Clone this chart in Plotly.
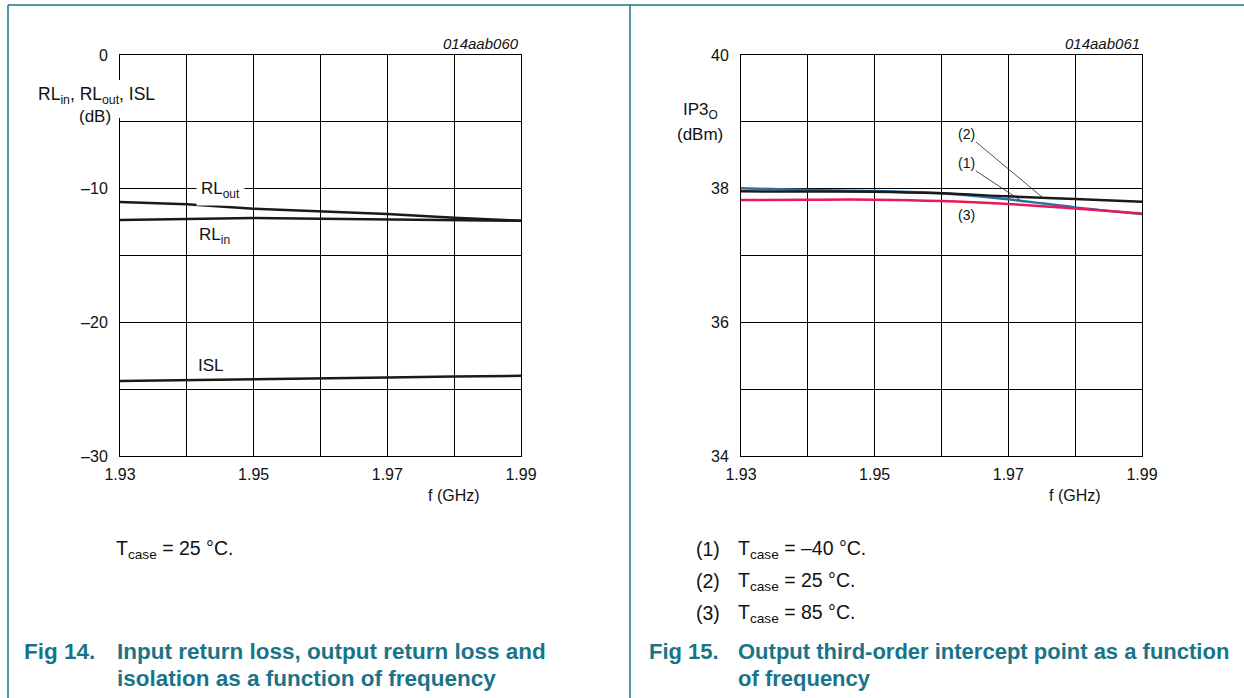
import plotly.graph_objects as go

W, H = 1244, 698

# ---- Data ----
freq = [1.93, 1.94, 1.95, 1.96, 1.97, 1.98, 1.99]
rl_out = [-11.0, -11.17, -11.5, -11.7, -11.9, -12.17, -12.4]
rl_in = [-12.34, -12.27, -12.2, -12.25, -12.3, -12.35, -12.4]
isl = [-24.38, -24.33, -24.28, -24.2, -24.13, -24.06, -24.0]

ip3_m40 = [38.005, 37.98, 37.965, 37.93, 37.84, 37.72, 37.62]
ip3_25 = [37.96, 37.958, 37.955, 37.93, 37.885, 37.845, 37.805]
ip3_85 = [37.83, 37.835, 37.835, 37.815, 37.77, 37.705, 37.63]

x_tickvals = freq
x_ticktext = ["1.93", "", "1.95", "", "1.97", "", "1.99"]
y1_tickvals = [0, -5, -10, -15, -20, -25, -30]
y1_ticktext = ["0", "", "–10", "", "–20", "", "–30"]
y2_tickvals = [34, 35, 36, 37, 38, 39, 40]
y2_ticktext = ["34", "", "36", "", "38", "", "40"]

FONT = "Liberation Sans, Arial, sans-serif"
TEAL = "#1a7489"
BLUE = "#2a6fa6"
RED = "#e8195a"


def px(x):
    return x / W


def py(y):
    return 1 - y / H


fig = go.Figure()

fig.add_trace(go.Scatter(x=freq, y=rl_out, mode="lines", line=dict(color="#1a1a1a", width=2.5),
                         xaxis="x", yaxis="y", showlegend=False))
fig.add_trace(go.Scatter(x=freq, y=rl_in, mode="lines", line=dict(color="#1a1a1a", width=2.5),
                         xaxis="x", yaxis="y", showlegend=False))
fig.add_trace(go.Scatter(x=freq, y=isl, mode="lines", line=dict(color="#1a1a1a", width=2.5),
                         xaxis="x", yaxis="y", showlegend=False))

fig.add_trace(go.Scatter(x=freq, y=ip3_m40, mode="lines", line=dict(color=BLUE, width=2.5, shape="spline"),
                         xaxis="x2", yaxis="y2", showlegend=False))
fig.add_trace(go.Scatter(x=freq, y=ip3_25, mode="lines", line=dict(color="#1a1a1a", width=2.5, shape="spline"),
                         xaxis="x2", yaxis="y2", showlegend=False))
fig.add_trace(go.Scatter(x=freq, y=ip3_85, mode="lines", line=dict(color=RED, width=2.5, shape="spline"),
                         xaxis="x2", yaxis="y2", showlegend=False))

axis_common = dict(showline=True, linecolor="black", linewidth=1, mirror=True, automargin=False,
                   showgrid=True, gridcolor="black", gridwidth=1, zeroline=False,
                   ticks="", tickfont=dict(family=FONT, size=16, color="#111"), fixedrange=True)

ydom = [py(456), py(55)]
fig.update_layout(
    width=W, height=H,
    margin=dict(l=0, r=0, t=0, b=0, pad=0),
    paper_bgcolor="white", plot_bgcolor="white",
    font=dict(family=FONT, color="#111"),
    xaxis=dict(domain=[px(120), px(521)], range=[1.93, 1.99], anchor="y",
               tickvals=x_tickvals, ticktext=x_ticktext, ticklabelstandoff=4, **axis_common),
    yaxis=dict(domain=ydom, range=[-30, 0], anchor="x",
               tickvals=y1_tickvals, ticktext=y1_ticktext, ticklabelstandoff=8, **axis_common),
    xaxis2=dict(domain=[px(741), px(1142)], range=[1.93, 1.99], anchor="y2",
                tickvals=x_tickvals, ticktext=x_ticktext, ticklabelstandoff=4, **axis_common),
    yaxis2=dict(domain=ydom, range=[34, 40], anchor="x2",
                tickvals=y2_tickvals, ticktext=y2_ticktext, ticklabelstandoff=8, **axis_common),
)

shapes = []
# page frame lines
shapes.append(dict(type="line", xref="paper", yref="paper", x0=px(8), x1=1, y0=py(5), y1=py(5),
                   line=dict(color=TEAL, width=1.5)))
shapes.append(dict(type="line", xref="paper", yref="paper", x0=px(8), x1=px(8), y0=py(5), y1=0,
                   line=dict(color=TEAL, width=1.5)))
shapes.append(dict(type="line", xref="paper", yref="paper", x0=px(630), x1=px(630), y0=py(5), y1=0,
                   line=dict(color=TEAL, width=1.5)))
# gap in left y axis line behind the axis title
shapes.append(dict(type="rect", xref="paper", yref="paper", x0=px(117), x1=px(123), y0=py(118), y1=py(80),
                   fillcolor="white", line=dict(width=0), layer="above"))
# leader lines
shapes.append(dict(type="line", xref="paper", yref="paper", x0=px(976), y0=py(142), x1=px(1042), y1=py(197),
                   line=dict(color="#222", width=0.8)))
shapes.append(dict(type="line", xref="paper", yref="paper", x0=px(976), y0=py(171), x1=px(1020), y1=py(200),
                   line=dict(color="#222", width=0.8)))
fig.update_layout(shapes=shapes)

ann = []


def add(text, x, y, xanchor="center", yanchor="middle", size=15, bold=False, italic=False,
        color="#111", bg=None, pad=1):
    t = text
    if bold:
        t = "<b>" + t + "</b>"
    if italic:
        t = "<i>" + t + "</i>"
    d = dict(text=t, x=px(x), y=py(y), xref="paper", yref="paper", xanchor=xanchor, yanchor=yanchor,
             showarrow=False, font=dict(family=FONT, size=size, color=color), align="left")
    if bg:
        d["bgcolor"] = bg
        d["borderpad"] = pad
    ann.append(d)


# left panel
add("014aab060", 521, 44, xanchor="right", size=15, italic=True)
add("RL<sub>in</sub>, RL<sub>out</sub>, ISL", 96, 96, size=17.5)
add("(dB)", 113, 116, xanchor="right", size=17)
add("f (GHz)", 454, 495, size=16)
add("RL<sub>out</sub>", 220, 190, size=17, bg="white", pad=4)
add("RL<sub>in</sub>", 214, 236, size=17)
add("ISL", 211, 366, size=17)
add("T<sub>case</sub> = 25 °C.", 114, 549, xanchor="left", size=19.5)
add("Fig 14.", 22, 651, xanchor="left", size=22.5, bold=True, color=TEAL)
add("Input return loss, output return loss and", 115, 651, xanchor="left", size=22.5, bold=True, color=TEAL)
add("isolation as a function of frequency", 115, 678, xanchor="left", size=22.5, bold=True, color=TEAL)

# right panel
add("014aab061", 1142, 44, xanchor="right", size=15, italic=True)
add("IP3<sub>O</sub>", 700, 111, size=17)
add("(dBm)", 700, 134, size=17)
add("f (GHz)", 1075, 495, size=16)
add("(2)", 967, 134, size=14)
add("(1)", 967, 163, size=14)
add("(3)", 967, 215, size=14)
add("(1)", 694, 549, xanchor="left", size=19.5)
add("T<sub>case</sub> = –40 °C.", 736, 549, xanchor="left", size=19.5)
add("(2)", 694, 581, xanchor="left", size=19.5)
add("T<sub>case</sub> = 25 °C.", 736, 581, xanchor="left", size=19.5)
add("(3)", 694, 613, xanchor="left", size=19.5)
add("T<sub>case</sub> = 85 °C.", 736, 613, xanchor="left", size=19.5)
add("Fig 15.", 647, 651, xanchor="left", size=22, bold=True, color=TEAL)
add("Output third-order intercept point as a function", 736, 651, xanchor="left", size=22, bold=True, color=TEAL)
add("of frequency", 736, 678, xanchor="left", size=22, bold=True, color=TEAL)

fig.update_layout(annotations=ann)

fig.write_html("out.html",
               post_script="document.body.style.margin='0';document.body.style.overflow='hidden';")
